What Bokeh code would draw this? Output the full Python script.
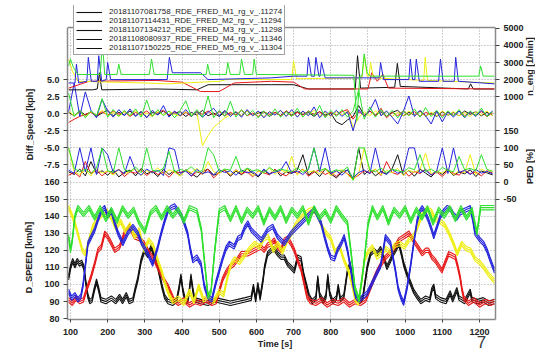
from bokeh.plotting import figure
from bokeh.models import (Range1d, LinearAxis, FixedTicker, Label, Legend,
                          LegendItem, Span, BoxAnnotation)
from bokeh.embed import file_html
from bokeh.resources import INLINE

# ---------------- data ----------------
run_names = [
    "20181107081758_RDE_FRED_M1_rg_v_.11274",
    "20181107114431_RDE_FRED_M2_rg_v_.11294",
    "20181107134212_RDE_FRED_M3_rg_v_.11298",
    "20181108080937_RDE_FRED_M4_rg_v_.11346",
    "20181107150225_RDE_FRED_M5_rg_v_.11304",
]
page_number = "7"
time_ticks = [100, 200, 300, 400, 500, 600, 700, 800, 900, 1000, 1100, 1200]
speed_ticks = [80, 90, 100, 110, 120, 130, 140, 150, 160]
diff_ticks = [-7.5, -5.0, -2.5, 0.0, 2.5, 5.0]
ped_ticks = [-50, 0, 50, 100, 150]
neng_ticks = [1000, 2000, 3000, 4000, 5000]
speed_band = [-1.3, 0.0, 1.3]

# D_SPEED [km/h]  (time, speed)
speed_black = [(95,104),(100,110),(106,114),(112,111),(118,114),(124,112),(130,113),(136,110),(142,100),(147,93),(152,90),(158,91),(163,96),(170,102),(176,97),(182,91),(195,90),(210,92),(222,90),(232,93),(240,90),(250,94),(258,90),(268,91),(274,97),(281,103),(290,114),(299,120),(308,117),(317,122),(326,116),(333,112),(339,106),(346,99),(353,93),(362,90),(375,89),(386,91),(392,98),(397,105),(402,97),(408,91),(415,90),(420,97),(424,105),(429,97),(434,91),(450,90),(470,89),(490,91),(510,90),(530,89),(550,90),(570,91),(586,92),(592,99),(598,91),(604,100),(610,92),(618,103),(622,110),(630,118),(640,120),(648,121),(657,118),(666,116),(675,116),(684,112),(693,110),(702,108),(711,116),(720,115),(727,106),(734,100),(742,93),(750,90),(760,92),(765,104),(770,94),(780,90),(787,93),(792,105),(797,95),(805,90),(815,92),(820,99),(826,91),(835,93),(845,108),(852,112),(858,104),(866,93),(876,90),(886,92),(898,110),(907,118),(916,120),(925,118),(934,121),(942,116),(951,110),(960,114),(968,118),(976,121),(983,124),(990,118),(996,112),(1005,106),(1014,101),(1023,96),(1032,93),(1042,90),(1055,92),(1066,91),(1072,97),(1077,99),(1082,93),(1095,91),(1110,90),(1121,95),(1128,91),(1139,97),(1145,92),(1160,90),(1175,96),(1180,91),(1195,90),(1210,91),(1225,89),(1240,90)]
speed_red = [(95,91),(105,89),(115,92),(125,90),(135,91),(143,97),(150,101),(156,105),(165,112),(174,120),(183,122),(192,130),(200,128),(210,124),(219,120),(232,122),(245,130),(259,134),(272,128),(285,127),(298,124),(308,120),(317,117),(326,114),(335,110),(344,106),(353,102),(362,99),(370,95),(378,91),(390,89),(405,91),(420,88),(435,90),(450,89),(465,91),(480,89),(492,90),(500,96),(509,103),(518,107),(527,110),(540,112),(550,115),(559,118),(577,118),(595,120),(604,121),(612,122),(621,120),(630,123),(640,124),(648,126),(657,122),(666,120),(675,126),(684,127),(693,124),(702,120),(711,114),(720,109),(729,100),(736,93),(745,90),(760,89),(775,91),(790,88),(805,90),(820,89),(835,91),(850,88),(865,90),(880,89),(894,91),(903,96),(912,101),(921,106),(930,110),(939,113),(948,116),(957,118),(966,120),(975,123),(983,126),(990,127),(997,128),(1004,129),(1010,130),(1019,127),(1028,124),(1037,121),(1046,118),(1055,120),(1063,120),(1072,116),(1081,114),(1090,111),(1099,108),(1108,113),(1117,118),(1126,117),(1135,116),(1142,110),(1148,104),(1153,97),(1158,92),(1170,89),(1185,91),(1200,88),(1215,90),(1230,89),(1240,90)]
speed_yellow = [(95,145),(103,141),(112,136),(122,128),(132,120),(140,118),(150,126),(160,134),(172,138),(185,141),(198,143),(210,139),(222,133),(235,137),(248,131),(260,135),(272,128),(285,132),(298,120),(310,126),(322,123),(335,114),(345,108),(355,100),(365,94),(375,90),(390,92),(405,89),(420,96),(432,90),(445,99),(458,91),(470,93),(485,90),(500,96),(512,94),(522,104),(532,112),(542,115),(555,113),(568,117),(582,121),(595,124),(608,122),(620,127),(632,128),(645,120),(658,124),(670,119),(684,126),(695,130),(705,135),(716,138),(728,141),(740,143),(752,144),(764,141),(776,134),(788,130),(800,127),(812,119),(824,122),(836,114),(848,108),(858,99),(866,91),(874,89),(882,100),(890,114),(900,119),(912,122),(924,116),(936,118),(948,121),(960,119),(972,123),(985,124),(998,122),(1010,126),(1022,128),(1034,134),(1046,141),(1058,144),(1070,143),(1082,138),(1094,137),(1106,135),(1118,130),(1130,124),(1140,118),(1152,124),(1164,121),(1176,120),(1188,115),(1200,113),(1212,110),(1224,106),(1240,102)]
speed_blue = [(95,96),(103,92),(112,94),(120,91),(128,93),(134,100),(140,111),(147,124),(156,128),(165,132),(174,138),(183,143),(192,145),(200,140),(210,143),(219,136),(228,130),(241,124),(254,130),(268,134),(281,130),(292,124),(308,118),(321,112),(335,122),(344,130),(353,137),(362,143),(371,145),(380,146),(390,143),(397,141),(406,136),(415,130),(422,121),(429,114),(440,116),(451,112),(460,99),(469,93),(480,91),(491,101),(500,108),(509,115),(518,121),(527,124),(540,122),(550,127),(559,128),(568,133),(577,136),(586,132),(595,130),(604,128),(613,126),(622,129),(630,132),(644,134),(657,128),(666,126),(675,124),(684,127),(693,130),(702,132),(711,134),(720,136),(729,138),(738,140),(747,142),(756,144),(765,140),(774,136),(783,128),(792,121),(800,116),(810,115),(818,120),(828,124),(836,128),(845,120),(853,110),(860,100),(867,93),(876,91),(888,93),(898,95),(907,99),(916,103),(925,107),(934,111),(941,120),(947,128),(954,126),(961,124),(968,115),(974,108),(981,98),(988,93),(996,89),(1005,98),(1014,110),(1023,124),(1032,137),(1040,143),(1046,145),(1054,142),(1062,138),(1070,133),(1077,128),(1086,134),(1095,140),(1104,143),(1113,145),(1122,144),(1130,141),(1139,139),(1148,142),(1157,143),(1166,144),(1175,145),(1182,138),(1188,130),(1195,128),(1202,126),(1211,124),(1220,120),(1228,115),(1240,108)]
speed_green = [(95,128),(100,120),(105,126),(112,140),(120,145),(135,141),(150,145),(165,139),(180,145),(195,138),(210,144),(225,137),(240,145),(255,140),(270,144),(285,136),(300,131),(315,142),(330,145),(345,139),(360,145),(375,140),(390,144),(405,137),(420,145),(440,143),(452,132),(462,110),(470,93),(478,96),(488,120),(500,143),(515,145),(530,138),(545,145),(560,137),(575,144),(590,140),(605,145),(620,136),(635,144),(650,139),(665,145),(680,137),(695,144),(710,140),(725,145),(740,136),(755,145),(770,139),(785,143),(800,137),(815,145),(830,140),(845,136),(855,118),(865,98),(876,91),(888,110),(900,135),(912,145),(925,139),(940,145),(955,136),(970,144),(985,140),(1000,145),(1015,137),(1030,144),(1045,139),(1060,145),(1075,136),(1090,144),(1105,140),(1120,145),(1135,138),(1150,145),(1165,139),(1180,144),(1193,130),(1203,145),(1240,145)]

# n_eng [1/min]  (time, rpm)
neng_black = [(95,1400),(160,1400),(172,1450),(178,2400),(184,1400),(330,1450),(440,1400),(470,1700),(640,1700),(700,1700),(740,1450),(866,1450),(872,3400),(880,1500),(972,1550),(979,2950),(987,1600),(1170,1450),(1176,1750),(1183,1450),(1240,1450)]
neng_red = [(95,1500),(150,1900),(330,1950),(400,1850),(450,1300),(500,1300),(540,1800),(640,1900),(700,1850),(730,1450),(900,1450),(910,2400),(925,1900),(940,2300),(955,1500),(1240,1450)]
neng_yellow = [(95,3200),(105,2500),(120,1900),(300,1800),(360,1750),(500,1900),(520,2000),(695,2000),(700,3100),(708,2050),(884,2100),(890,3400),(898,2200),(903,2200),(907,3000),(915,2100),(1050,1950),(1054,3300),(1060,1950),(1240,1800)]
neng_blue = [(95,1800),(112,1800),(116,2900),(122,1800),(144,1900),(148,3300),(156,1900),(172,1900),(176,3400),(184,1900),(196,2000),(200,3000),(208,2000),(360,2000),(366,3300),(374,2400),(450,2400),(470,2000),(640,2100),(700,2200),(736,2200),(740,3300),(748,2200),(756,2200),(760,3300),(768,2200),(771,2200),(775,3000),(785,2100),(930,2100),(934,3000),(942,2000),(1010,2000),(1014,3200),(1020,2000),(1026,2000),(1030,3200),(1038,1900),(1090,1900),(1095,3200),(1102,1900),(1132,1900),(1136,3300),(1143,1900),(1240,1750)]
neng_green = [(95,2800),(100,3200),(108,2700),(120,2300),(180,2300),(186,4200),(192,2300),(225,2300),(230,2900),(236,2300),(312,2300),(318,3200),(325,2300),(465,2300),(469,2900),(475,2300),(519,2300),(523,3000),(530,2300),(555,2300),(560,3200),(568,2300),(590,2300),(594,3200),(600,2300),(862,2250),(870,-400),(878,2200),(884,2200),(890,3500),(898,2400),(905,2200),(1198,2200),(1203,2800),(1210,2200),(1240,2200)]

# sample times of Diff_Speed and PED
t_fast = [95, 110, 125, 140, 155, 170, 185, 200, 215, 230,
          245, 260, 275, 290, 305, 320, 335, 350, 365, 380,
          395, 410, 425, 440, 455, 470, 485, 500, 515, 530,
          545, 560, 575, 590, 605, 620, 635, 650, 665, 680,
          695, 710, 725, 740, 755, 770, 785, 800, 815, 830,
          845, 860, 875, 890, 905, 920, 935, 950, 965, 980,
          995, 1010, 1025, 1040, 1055, 1070, 1085, 1100, 1115, 1130,
          1145, 1160, 1175, 1190, 1205, 1220, 1235]

# Diff_Speed [kph]
diff_black = [0.2, -0.3, 0.4, -0.2, 0.3, -0.4, 0.1, 0.5, -0.3, 0.2,
              -0.2, 0.4, -0.3, 0.3, -0.5, 0.2, -0.1, 0.4, -0.3, 0.1,
              0.3, -0.4, 0.2, -0.2, 0.5, -0.3, 0.1, -0.4, 0.3, -0.1,
              0.2, -0.3, 0.4, -0.2, 0.1, 0.3, -0.4, 0.2, -0.3, 0.4,
              -0.2, 0.3, -0.1, 0.2, -0.4, 0.3, -0.2, 0.1, -1.2, -1.6,
              -0.9, -0.4, 1.2, -0.3, 0.4, -0.2, 0.3, -0.4, 0.2, 0.5,
              -0.3, 0.2, -0.2, 0.4, -0.3, 0.1, -0.4, 0.3, -0.2, 0.2,
              -0.3, 0.4, -0.1, 0.3, -0.3, 0.2, -0.2]
diff_red = [-1.3, -0.8, -0.4, -0.1, 0.2, -0.3, 0.3, -0.2, 0.4, -0.1,
            0.3, -0.4, 0.2, -0.1, 0.4, -0.3, 0.2, 0.5, -0.2, 0.3,
            -0.3, 0.2, -0.4, 0.3, -0.1, 0.4, -0.2, 0.3, -0.3, 0.2,
            -0.2, 0.5, -0.3, 0.1, -0.4, 0.3, -0.1, 0.2, -0.3, 0.4,
            -0.3, 0.2, -0.2, 0.4, -0.1, 0.3, -0.4, 0.2, -0.2, 0.3,
            0.6, -0.8, 0.3, -0.2, 0.4, -0.3, 0.8, -0.6, 0.2, -0.3,
            0.4, -0.2, 0.3, -0.4, 0.2, -0.1, 0.3, -0.3, 0.2, -0.2,
            0.4, -0.3, 0.2, -0.2, 0.3, -0.4, 0.1]
diff_yellow = [0.4, -0.3, 0.2, -0.4, 0.3, -0.2, 0.5, -0.3, 0.2, -0.4,
               0.3, -0.2, 0.4, -0.3, 0.1, -0.4, 0.3, -0.2, 0.4, -0.1,
               -0.3, 0.3, -0.2, 0.2, -4.7, -3.2, -2.0, -1.3, -0.6, -0.2,
               0.3, -0.3, 0.4, -0.2, 0.2, -0.4, 0.3, -0.1, 0.4, -0.3,
               0.2, -0.4, 0.3, -0.2, 0.5, -0.3, 0.2, -0.4, 0.3, -0.2,
               0.4, -2.0, -0.6, 0.3, -0.3, 0.4, -0.2, 0.3, -0.4, 0.2,
               -0.3, 0.4, -0.2, 0.3, -0.4, 0.2, -0.3, 0.4, -0.2, 0.3,
               -0.3, 0.2, -0.4, 0.3, -0.2, 0.4, -0.3]
diff_blue = [0.3, 4.5, -0.4, 3.2, 0.5, -0.6, 2.1, 0.4, -0.5, 0.6,
             -0.3, 0.7, -0.4, 0.3, -0.6, 0.5, -0.2, 1.2, -0.5, 0.4,
             -0.3, 0.6, -0.4, 0.3, -0.5, 0.2, 0.8, -0.3, 0.5, -0.4,
             0.3, -0.5, 0.6, -0.3, 0.4, -0.6, 0.3, -0.2, 0.5, -0.4,
             0.6, -0.5, 0.4, -0.3, 1.0, -0.6, 0.4, -0.3, 0.5, -0.4,
             0.3, -2.5, 0.6, -0.4, 0.5, 2.1, -0.3, 0.4, -0.5, -1.5,
             0.3, 2.6, -0.4, 0.5, -0.3, -1.5, 0.4, -1.2, 0.3, -0.5,
             0.4, -0.6, 0.3, -0.4, 0.5, -0.3, 0.4]
diff_green = [3.0, -0.4, 0.5, -0.6, 0.4, -0.3, 2.2, -0.5, 0.6, -0.4,
              0.5, -0.3, 0.7, -0.5, 2.0, -0.4, 0.6, -0.3, 0.4, -0.6,
              0.5, 1.9, -0.4, 0.6, -0.5, 2.6, -0.6, 0.5, -0.4, 1.8,
              -0.5, 0.6, -0.3, 0.5, -0.6, 0.4, -0.4, 0.7, -0.5, 0.3,
              -0.4, 0.8, -0.5, 0.4, -0.3, 1.2, -0.6, 0.5, -0.4, 0.6,
              -0.5, 0.4, 3.5, -0.8, 1.0, -0.5, 0.6, -0.4, 0.5, -0.6,
              0.4, -0.3, 0.7, -0.5, 0.9, -0.4, 0.5, -0.6, 0.4, -0.3,
              0.6, -0.5, 0.4, -0.3, 0.8, -0.4, 0.3]

# PED [%]
ped_black = [30, 22, 38, 18, 60, 25, 33, 20, 36, 15,
             28, 35, 18, 40, 24, 31, 16, 37, 22, 34,
             19, 36, 25, 14, 30, 38, 20, 27, 35, 17,
             32, 21, 39, 26, 15, 34, 23, 37, 18, 30,
             25, 36, 80, 20, 33, 16, 38, 24, 12, 29,
             35, 8, 100, 22, 36, 18, 31, 25, 39, 80,
             20, 34, 17, 38, 26, 15, 33, 22, 37, 19,
             30, 24, 36, 16, 32, 27, 21]
ped_red = [20, 28, 15, 60, 25, 35, 18, 32, 24, 38,
           16, 30, 26, 36, 19, 33, 22, 29, 14, 31,
           27, 35, 17, 30, 23, 38, 12, 28, 34, 20,
           36, 24, 30, 15, 33, 27, 21, 37, 25, 18,
           32, 26, 38, 17, 29, 35, 22, 30, 16, 34,
           24, 10, 20, 33, 26, 37, 19, 60, 28, 22,
           35, 17, 31, 25, 38, 21, 29, 16, 34, 26,
           20, 36, 24, 30, 18, 33, 27]
ped_yellow = [100, 30, 22, 35, 18, 40, 26, 33, 20, 37,
              24, 31, 38, 19, 34, 27, 42, 22, 36, 29,
              17, 35, 28, 40, 23, 60, 30, 25, 38, 21,
              34, 27, 39, 18, 32, 26, 41, 23, 35, 28,
              75, 20, 37, 29, 33, 24, 40, 18, 31, 36,
              22, 6, 25, 100, 30, 38, 21, 34, 27, 40,
              19, 35, 28, 37, 85, 24, 32, 26, 39, 21,
              33, 27, 80, 22, 38, 29, 35]
ped_blue = [35, 25, 100, 30, 100, 22, 100, 80, 28, 36,
            24, 75, 33, 20, 38, 27, 34, 19, 100, 95,
            26, 32, 18, 37, 25, 30, 21, 36, 28, 33,
            20, 35, 27, 31, 18, 38, 24, 29, 34, 60,
            26, 32, 22, 37, 100, 30, 100, 25, 33, 20,
            36, 12, 28, 35, 24, 100, 30, 22, 37, 26,
            31, 100, 100, 27, 35, 20, 33, 100, 25, 100,
            28, 34, 22, 37, 26, 31, 24]
ped_green = [100, 40, 30, 38, 25, 42, 100, 33, 28, 100,
             36, 30, 44, 27, 100, 35, 31, 40, 90, 29,
             37, 32, 45, 28, 34, 100, 80, 30, 38, 35,
             75, 29, 41, 33, 36, 27, 43, 31, 38, 34,
             30, 42, 28, 39, 100, 33, 40, 29, 36, 31,
             44, 5, 100, 100, 35, 30, 41, 27, 38, 33,
             29, 42, 36, 80, 31, 38, 27, 43, 34, 30,
             75, 36, 40, 33, 80, 37, 31]

# --------------- chart ---------------
FONT = "Liberation Sans"
W, H = 535, 350
FL, FR, FT, FB = 66, 495, 5, 319        # frame edges on the canvas
BOX_TOP_PX = 27                          # visible box top (5000 rpm)
X0, X1 = 92, 1243
Y0, Y_BOX = 79.5, 250.5                  # D_SPEED scale of the shared area
PX_PER_Y = (FB - BOX_TOP_PX) / (Y_BOX - Y0)
Y1 = Y_BOX + (BOX_TOP_PX - FT) / PX_PER_Y
DIFF_ZERO, DIFF_PER = 200, 0.25
PED_ZERO, PED_PER = 160, 5
NENG_ZERO, NENG_PER = 200, 100


def sub_range(zero, per):
    return Range1d((Y0 - zero) * per, (Y1 - zero) * per)


def pos(v, zero, per):
    return int(round(zero + v / per))


def data_x(px):
    return X0 + (px - FL) * (X1 - X0) / (FR - FL)


def data_y(py):
    return Y0 + (FB - py) / PX_PER_Y


p = figure(width=W, height=H, output_backend="svg", toolbar_location=None,
           x_range=Range1d(X0, X1), y_range=Range1d(Y0, Y1),
           min_border_left=FL, min_border_right=W - FR, min_border_top=FT,
           min_border_bottom=H - FB)
p.extra_y_ranges = {"diff": sub_range(DIFF_ZERO, DIFF_PER),
                    "ped": sub_range(PED_ZERO, PED_PER),
                    "neng": sub_range(NENG_ZERO, NENG_PER)}
p.background_fill_color = "white"
p.border_fill_color = "white"
p.outline_line_color = None

colors = {"black": "#111111", "red": "#e81818", "yellow": "#eeee10",
          "blue": "#2424dc", "green": "#2ee02e"}
order = ["black", "red", "yellow", "blue", "green"]
speed = {"black": speed_black, "red": speed_red, "yellow": speed_yellow,
         "blue": speed_blue, "green": speed_green}
neng = {"black": neng_black, "red": neng_red, "yellow": neng_yellow,
        "blue": neng_blue, "green": neng_green}
diff = {"black": diff_black, "red": diff_red, "yellow": diff_yellow,
        "blue": diff_blue, "green": diff_green}
ped = {"black": ped_black, "red": ped_red, "yellow": ped_yellow,
       "blue": ped_blue, "green": ped_green}

dark_renderers = []
for c in order:
    t, v = zip(*speed[c])
    for off in speed_band:
        r = p.line(list(t), [x + off for x in v], color=colors[c],
                   line_width=1.1)
        if c == "black":
            dark_renderers.append(r)
for c in order:
    r = p.line(t_fast, ped[c], y_range_name="ped", color=colors[c], line_width=1)
    if c == "black":
        dark_renderers.append(r)
for c in order:
    r = p.line(t_fast, diff[c], y_range_name="diff", color=colors[c], line_width=1)
    if c == "black":
        dark_renderers.append(r)
for c in order:
    t, v = zip(*neng[c])
    p.line(list(t), list(v), y_range_name="neng", color=colors[c], line_width=1)

# axes
left_pos = list(speed_ticks) + [pos(d, DIFF_ZERO, DIFF_PER) for d in diff_ticks]
left_labels = {pos(d, DIFF_ZERO, DIFF_PER): f"{d:.1f}" for d in diff_ticks}
left = p.yaxis[0]
left.ticker = FixedTicker(ticks=left_pos)
left.major_label_overrides = left_labels

right_pos = [pos(v, PED_ZERO, PED_PER) for v in ped_ticks] + \
            [pos(v, NENG_ZERO, NENG_PER) for v in neng_ticks]
right_labels = {pos(v, PED_ZERO, PED_PER): str(v) for v in ped_ticks}
right_labels.update({pos(v, NENG_ZERO, NENG_PER): str(v) for v in neng_ticks})
right = LinearAxis(ticker=FixedTicker(ticks=right_pos),
                   major_label_overrides=right_labels)
p.add_layout(right, "right")

p.xaxis.ticker = FixedTicker(ticks=time_ticks)

for ax in [p.xaxis[0], left, right]:
    ax.axis_line_color = "#8a8a8a"
    ax.axis_line_width = 1.5
    ax.major_tick_line_color = "#444444"
    ax.major_tick_in = 0
    ax.major_tick_out = 4
    ax.minor_tick_in = 0
    ax.minor_tick_out = 0
    ax.major_label_text_font = FONT
    ax.major_label_text_font_size = "9px"
    ax.major_label_text_font_style = "bold"
    ax.major_label_text_color = "#222222"
left.bounds = (Y0, Y_BOX)
right.bounds = (Y0, Y_BOX)
p.xaxis.major_tick_out = 3
p.xaxis.major_label_standoff = 6
left.major_label_standoff = 4
right.major_label_standoff = 4

# grid
p.xgrid.grid_line_color = "#a0a0a0"
p.xgrid.grid_line_dash = "1 2"
p.ygrid.grid_line_color = "#a0a0a0"
p.ygrid.grid_line_dash = "1 2"
p.ygrid.ticker = FixedTicker(ticks=[90, 100, 110, 120, 130, 140, 150, 160, 170,
                                    180, 190, 200, 210, 220, 230, 240])

# white area above the box, then the box top edge
p.add_layout(BoxAnnotation(bottom=Y_BOX, fill_color="white", fill_alpha=1.0,
                           line_color=None))
p.add_layout(Span(location=Y_BOX, dimension="width", line_color="#8a8a8a",
                  line_width=1.5))


# axis titles (in side panels, placed through the plot's scales)
def title(text, px, py, side, angle=90, size="9px", style="bold",
          baseline="middle", color="#222222"):
    p.add_layout(Label(x=data_x(px), y=data_y(py), text=text,
                       angle=angle, angle_units="deg", text_align="center",
                       text_baseline=baseline, text_font=FONT,
                       text_font_size=size, text_font_style=style,
                       text_color=color), side)


title("Diff_Speed [kph]", 28, 124, "left")
title("D_SPEED [km/h]", 27, 257, "left")
title("n_eng [1/min]", 530, 66, "left")
title("PED [%]", 530, 166, "left")
title("Time [s]", 274, 343, "below", angle=0)
title(page_number, 481, 335, "right", angle=0, size="17px", style="normal",
      baseline="top", color="#3a3a3a")

# legend (samples drawn with the dark run lines)
items = [LegendItem(label=name, renderers=[dark_renderers[i]])
         for i, name in enumerate(run_names)]
legend = Legend(items=items, location=(6, FB - 55), padding=2, spacing=0,
                margin=0, label_height=8, glyph_height=8, glyph_width=26,
                label_standoff=7, label_text_font=FONT,
                label_text_font_size="8px", label_text_color="#222222",
                border_line_color="#444444", border_line_width=1,
                background_fill_color="white", background_fill_alpha=1.0)
p.add_layout(legend)

open("out.html", "w").write(file_html(p, INLINE))
